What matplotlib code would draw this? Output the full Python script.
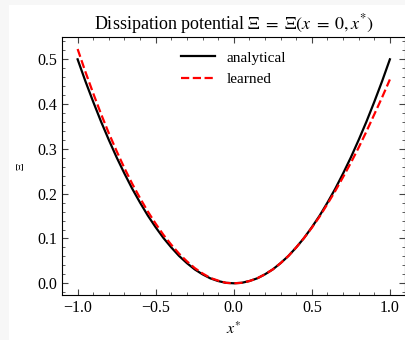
import matplotlib
matplotlib.use("Agg")
import matplotlib.pyplot as plt
from matplotlib.patches import Rectangle
from matplotlib.ticker import MultipleLocator

# valores
x_star = [-1.0, -0.95, -0.9, -0.85, -0.8, -0.75, -0.7, -0.65, -0.6, -0.55, -0.5,
          -0.45, -0.4, -0.35, -0.3, -0.25, -0.2, -0.15, -0.1, -0.05, 0.0,
          0.05, 0.1, 0.15, 0.2, 0.25, 0.3, 0.35, 0.4, 0.45, 0.5,
          0.55, 0.6, 0.65, 0.7, 0.75, 0.8, 0.85, 0.9, 0.95, 1.0]
xi_analytical = [0.5, 0.451, 0.405, 0.361, 0.32, 0.281, 0.245, 0.211, 0.18, 0.151, 0.125,
                 0.101, 0.08, 0.061, 0.045, 0.031, 0.02, 0.011, 0.005, 0.001, 0.0,
                 0.001, 0.005, 0.011, 0.02, 0.031, 0.045, 0.061, 0.08, 0.101, 0.125,
                 0.151, 0.18, 0.211, 0.245, 0.281, 0.32, 0.361, 0.405, 0.451, 0.5]
xi_learned = [0.523, 0.472, 0.424, 0.378, 0.335, 0.295, 0.257, 0.222, 0.19, 0.16, 0.133,
              0.108, 0.086, 0.066, 0.049, 0.034, 0.022, 0.012, 0.006, 0.001, 0.0,
              0.001, 0.005, 0.011, 0.02, 0.031, 0.045, 0.061, 0.08, 0.101, 0.124,
              0.149, 0.177, 0.206, 0.237, 0.269, 0.303, 0.339, 0.377, 0.415, 0.455]

plt.rcParams['font.family'] = ['Liberation Serif', 'DejaVu Serif']
plt.rcParams['mathtext.fontset'] = 'stix'
plt.rcParams['xtick.direction'] = 'in'
plt.rcParams['ytick.direction'] = 'in'

fig = plt.figure(figsize=(4.05, 3.4), dpi=100, facecolor='#f7f7f7')
# zona blanca de la figura
fig.patches.append(Rectangle((9 / 405, 0), 1, 1 - 5 / 340, transform=fig.transFigure,
                             facecolor='white', edgecolor='none', zorder=-1))

ax = fig.add_axes([62 / 405, (340 - 295) / 340, (405.5 - 62) / 405, (295 - 37.3) / 340])

ax.plot(x_star, xi_analytical, color='black', linewidth=1.6, label='analytical')
ax.plot(x_star, xi_learned, color='red', linestyle='--', linewidth=1.6, label='learned')

ax.set_xlim(-1.1, 1.1)
ax.xaxis.set_major_locator(MultipleLocator(0.5))
ax.xaxis.set_minor_locator(MultipleLocator(0.1))
ax.yaxis.set_major_locator(MultipleLocator(0.1))
ax.yaxis.set_minor_locator(MultipleLocator(0.02))
ax.tick_params(which='both', top=True, right=True, labelsize=11.5, color='#444444')
ax.tick_params(which='major', length=4, width=0.8)
ax.tick_params(which='minor', length=2, width=0.6)

ax.set_title(r'Dissipation potential $\Xi \;=\; \Xi(x \;=\; 0, x^{*})$', fontsize=13)
ax.set_xlabel(r'$x^{*}$', fontsize=11.5)
ax.set_ylabel(r'$\Xi$', fontsize=8, labelpad=8)

ax.legend(loc='upper center', frameon=False, fontsize=11, handlelength=2.2)

plt.savefig('out.png', dpi=100, facecolor=fig.get_facecolor())
